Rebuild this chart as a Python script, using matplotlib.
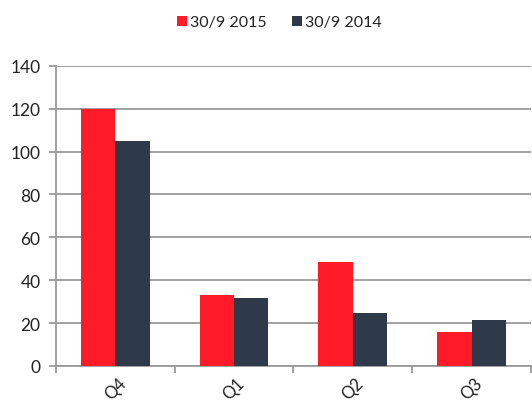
import numpy as np
import matplotlib.pyplot as plt
from matplotlib.transforms import ScaledTranslation

quarters = ["Q4", "Q1", "Q2", "Q3"]
vals_2015 = [120, 33, 48.5, 16]
vals_2014 = [105, 31.5, 24.5, 21.5]
yticks = [0, 20, 40, 60, 80, 100, 120, 140]

red = "#FF1A27"
navy = "#2E3A4A"
grey = "#9A9A9A"

plt.rcParams["font.family"] = ["Lato", "DejaVu Sans"]

fig = plt.figure(figsize=(5.32, 4.10), dpi=100)
ax = fig.add_axes([0.105, 0.105, 0.893, 0.732])

x = np.arange(len(quarters))
w = 0.29
ax.bar(x - w / 2, vals_2015, w, color=red, label="30/9 2015", zorder=3)
ax.bar(x + w / 2, vals_2014, w, color=navy, label="30/9 2014", zorder=3)

ax.set_xlim(-0.5, len(quarters) - 0.5)
ax.set_ylim(0, 140)
ax.set_yticks(yticks)
ax.yaxis.grid(True, color=grey, linewidth=1.3, zorder=0)

ax.set_xticks(np.arange(-0.5, len(quarters)), minor=False)
ax.set_xticklabels([])
ax.set_xticks(x, minor=True)
labels = ax.set_xticklabels(quarters, minor=True, rotation=45, ha="center",
                            va="top", fontsize=12, color="#222222")
shift = ScaledTranslation(-6 / 100, 0, fig.dpi_scale_trans)
for lab in labels:
    lab.set_transform(lab.get_transform() + shift)
ax.tick_params(axis="x", which="minor", length=0, pad=6)
ax.tick_params(axis="x", which="major", length=5, color=grey, width=1.3)
ax.tick_params(axis="y", length=5, color=grey, width=1.3, labelsize=12.5,
               labelcolor="#222222", pad=6)

for s in ["top", "right"]:
    ax.spines[s].set_visible(False)
for s in ["left", "bottom"]:
    ax.spines[s].set_color(grey)
    ax.spines[s].set_linewidth(1.3)

fig.legend(loc="upper center", bbox_to_anchor=(0.525, 0.995), ncol=2,
           frameon=False, fontsize=11.5, handlelength=0.6, handleheight=0.6,
           handletextpad=0.2, columnspacing=1.6, labelcolor="#222222")

fig.savefig("out.png", dpi=100)
